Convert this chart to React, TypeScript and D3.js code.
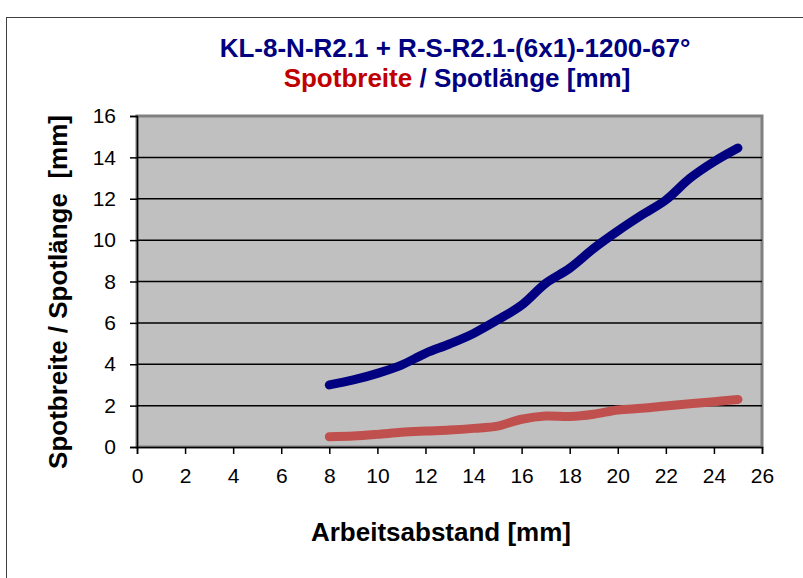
import * as d3 from "d3";
import { useEffect, useRef } from "react";

// Arbeitsabstand [mm]
const abstand = [8, 9, 10, 11, 12, 13, 14, 15, 16, 17, 18, 19, 20, 21, 22, 23, 24, 25];
// Spotlänge [mm] (blau)
const spotlaenge = [3.0, 3.24, 3.56, 3.96, 4.53, 4.98, 5.49, 6.14, 6.86, 7.91, 8.64, 9.6, 10.44, 11.21, 11.94, 12.99, 13.79, 14.45];
// Spotbreite [mm] (rot)
const spotbreite = [0.5, 0.53, 0.61, 0.71, 0.77, 0.82, 0.9, 1.01, 1.34, 1.5, 1.47, 1.58, 1.79, 1.87, 1.98, 2.09, 2.19, 2.3];

const xTicks = d3.range(0, 27, 2);
const yTicks = d3.range(0, 17, 2);

export default function App() {
  const svgRef = useRef<SVGSVGElement>(null);

  useEffect(() => {
    if (!svgRef.current) return;
    const svg = d3.select(svgRef.current);
    svg.selectAll("*").remove();

    const font = "'Liberation Sans', Arial, sans-serif";
    const left = 137;
    const right = 762;
    const top = 116;
    const bottom = 447;

    const x = d3.scaleLinear().domain([0, 26]).range([left, right]);
    const y = d3.scaleLinear().domain([0, 16]).range([bottom, top]);

    // outer chart border
    svg
      .append("rect")
      .attr("x", 6.5)
      .attr("y", 17.5)
      .attr("width", 820)
      .attr("height", 600)
      .attr("fill", "white")
      .attr("stroke", "#404040")
      .attr("stroke-width", 1);

    // plot area
    svg
      .append("rect")
      .attr("x", left)
      .attr("y", top)
      .attr("width", right - left)
      .attr("height", bottom - top)
      .attr("fill", "#c0c0c0")
      .attr("stroke", "#808080")
      .attr("stroke-width", 3);

    // gridlines
    svg
      .append("g")
      .selectAll("line")
      .data(yTicks.filter((t) => t > 0 && t < 16))
      .enter()
      .append("line")
      .attr("x1", left)
      .attr("x2", right)
      .attr("y1", (d) => y(d))
      .attr("y2", (d) => y(d))
      .attr("stroke", "black")
      .attr("stroke-width", 1.5);

    // axes
    const yAxis = svg
      .append("g")
      .attr("transform", `translate(${left},0)`)
      .call(d3.axisLeft(y).tickValues(yTicks).tickSize(7).tickPadding(14));
    const xAxis = svg
      .append("g")
      .attr("transform", `translate(0,${bottom})`)
      .call(d3.axisBottom(x).tickValues(xTicks).tickSize(7).tickPadding(14));

    [yAxis, xAxis].forEach((a) => {
      a.select(".domain").attr("stroke", "black").attr("stroke-width", 1.5);
      a.selectAll(".tick line").attr("stroke", "black").attr("stroke-width", 1.5);
      a.selectAll("text")
        .attr("fill", "black")
        .style("font-family", font)
        .style("font-size", "21px");
    });

    const line = d3
      .line<number>()
      .x((_, i) => x(abstand[i]))
      .y((d) => y(d))
      .curve(d3.curveCatmullRom);

    svg
      .append("path")
      .datum(spotbreite)
      .attr("fill", "none")
      .attr("stroke", "#c0504d")
      .attr("stroke-width", 9)
      .attr("stroke-linecap", "round")
      .attr("stroke-linejoin", "round")
      .attr("d", line);

    svg
      .append("path")
      .datum(spotlaenge)
      .attr("fill", "none")
      .attr("stroke", "#000080")
      .attr("stroke-width", 9)
      .attr("stroke-linecap", "round")
      .attr("stroke-linejoin", "round")
      .attr("d", line);

    // titles
    svg
      .append("text")
      .attr("x", 455)
      .attr("y", 57)
      .attr("text-anchor", "middle")
      .attr("fill", "#000080")
      .style("font-family", font)
      .style("font-weight", "bold")
      .style("font-size", "26px")
      .text("KL-8-N-R2.1 + R-S-R2.1-(6x1)-1200-67°");

    const t2 = svg
      .append("text")
      .attr("x", 457)
      .attr("y", 87)
      .attr("text-anchor", "middle")
      .style("font-family", font)
      .style("font-weight", "bold")
      .style("font-size", "26px");
    t2.append("tspan").attr("fill", "#c00000").text("Spotbreite");
    t2.append("tspan").attr("fill", "#000080").text(" / Spotlänge [mm]");

    svg
      .append("text")
      .attr("transform", `translate(67,292) rotate(-90)`)
      .attr("text-anchor", "middle")
      .attr("fill", "black")
      .style("font-family", font)
      .style("font-weight", "bold")
      .style("font-size", "26px")
      .style("white-space", "pre")
      .text("Spotbreite / Spotlänge  [mm]");

    svg
      .append("text")
      .attr("x", 441)
      .attr("y", 541)
      .attr("text-anchor", "middle")
      .attr("fill", "black")
      .style("font-family", font)
      .style("font-weight", "bold")
      .style("font-size", "26px")
      .text("Arbeitsabstand [mm]");
  }, []);

  return (
    <svg
      ref={svgRef}
      width={803}
      height={578}
      style={{ position: "absolute", left: 0, top: 0, background: "white" }}
    />
  );
}
